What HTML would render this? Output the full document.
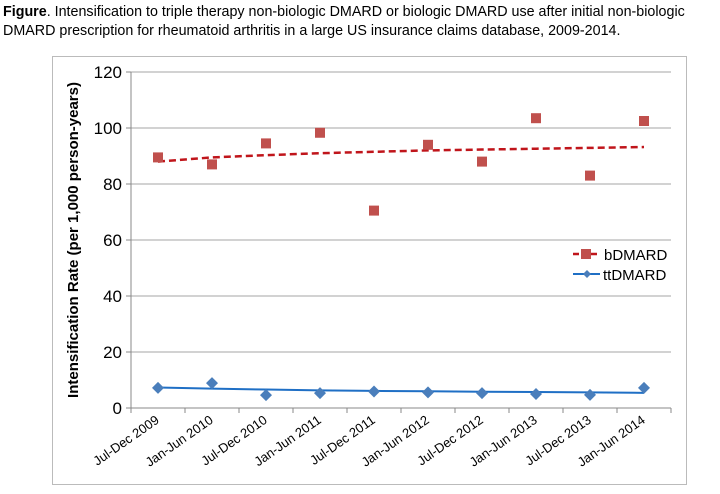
<!DOCTYPE html>
<html><head><meta charset="utf-8"><style>
body{margin:0;background:#fff;font-family:"Liberation Sans",Arial,sans-serif;}
#cap{position:absolute;left:3px;top:3px;font-size:14.3px;line-height:19px;color:#000;width:715px;}
svg{position:absolute;left:0;top:0;}
</style></head><body>
<div id="cap"><b>Figure</b>. Intensification to triple therapy non-biologic DMARD or biologic DMARD use after initial non-biologic DMARD prescription for rheumatoid arthritis in a large US insurance claims database, 2009-2014.</div>
<svg id="chart" width="720" height="494"></svg>
<script>
const categories=["Jul-Dec 2009","Jan-Jun 2010","Jul-Dec 2010","Jan-Jun 2011","Jul-Dec 2011","Jan-Jun 2012","Jul-Dec 2012","Jan-Jun 2013","Jul-Dec 2013","Jan-Jun 2014"];
const bValues=[89.5,87,94.5,98.3,70.5,94,88,103.5,83,102.5];
const bTrend=[88,89.5,90.3,91,91.5,92,92.3,92.6,92.9,93.2];
const tValues=[7.2,8.9,4.6,5.3,5.9,5.6,5.3,5.0,4.7,7.2];
const tTrend=[7.3,6.9,6.6,6.3,6.1,6.0,5.8,5.7,5.6,5.4];
const yTicks=[0,20,40,60,80,100,120];
const NS="http://www.w3.org/2000/svg";
const svg=document.getElementById('chart');
const x0=131,x1=671,yB=408,yT=72;
const bw=(x1-x0)/categories.length;
const xS=i=>x0+bw*(i+0.5);
const yS=v=>yB-(v/120)*(yB-yT);
function mk(t,a,p){const e=document.createElementNS(NS,t);for(const k in a)e.setAttribute(k,a[k]);(p||svg).appendChild(e);return e;}
let box=mk('rect',{x:52.5,y:56.5,width:634,height:428,fill:'none',stroke:'#bbb','stroke-width':1});


yTicks.forEach(v=>{
 if(v>0){let g=mk('line',{x1:x0,x2:x1,y1:yS(v),y2:yS(v),stroke:'#a6a6a6','stroke-width':1});
 
 }
 let t=mk('text',{x:122,y:yS(v)+6,'text-anchor':'end','font-size':17,fill:'#000'});t.textContent=v;
 
 
 mk('line',{x1:x0-5,x2:x0,y1:yS(v),y2:yS(v),stroke:'#888'});
});
mk('line',{x1:x0,x2:x0,y1:yT,y2:yB,stroke:'#888'});
let xa=mk('line',{x1:x0,x2:x1,y1:yB,y2:yB,stroke:'#888'});


for(let i=0;i<=categories.length;i++)mk('line',{x1:x0+bw*i,x2:x0+bw*i,y1:yB,y2:yB+5,stroke:'#888'});
categories.forEach((c,i)=>{
 let t=mk('text',{x:xS(i)+2,y:yB+14,'text-anchor':'end','font-size':13,transform:`rotate(-35 ${xS(i)+2} ${yB+14})`});t.textContent=c;
 
 
});
let yt=mk('text',{x:0,y:0,'font-size':15,'font-weight':'bold','text-anchor':'middle',transform:'rotate(-90) translate(-240 78)'});
yt.textContent='Intensification Rate (per 1,000 person-years)';


let bl=mk('polyline',{points:bTrend.map((v,i)=>xS(i)+','+yS(v)).join(' '),fill:'none',stroke:'#c0151b','stroke-width':2.5,'stroke-dasharray':'7,4'});


bValues.forEach((v,i)=>{let r=mk('rect',{x:xS(i)-5,y:yS(v)-5,width:10,height:10,fill:'#c0504d'});
 
 });
let tl=mk('polyline',{points:tTrend.map((v,i)=>xS(i)+','+yS(v)).join(' '),fill:'none',stroke:'#1f6fc5','stroke-width':2});


tValues.forEach((v,i)=>{let x=xS(i),y=yS(v);let p=mk('polygon',{points:`${x},${y-6} ${x+6},${y} ${x},${y+6} ${x-6},${y}`,fill:'#4a7ebb'});
 
 });
let lg=mk('g',{});


mk('line',{x1:573,x2:598,y1:254,y2:254,stroke:'#c0151b','stroke-width':2.5,'stroke-dasharray':'6,3'},lg);
mk('rect',{x:581,y:249,width:10,height:10,fill:'#c0504d'},lg);
let l1=mk('text',{x:604,y:260,'font-size':15},lg);l1.textContent='bDMARD';
mk('line',{x1:573,x2:600,y1:274,y2:274,stroke:'#1f6fc5','stroke-width':2},lg);
mk('polygon',{points:'587,270 591,274 587,278 583,274',fill:'#4a7ebb'},lg);
let l2=mk('text',{x:603,y:280,'font-size':15},lg);l2.textContent='ttDMARD';
</script>
</body></html>
